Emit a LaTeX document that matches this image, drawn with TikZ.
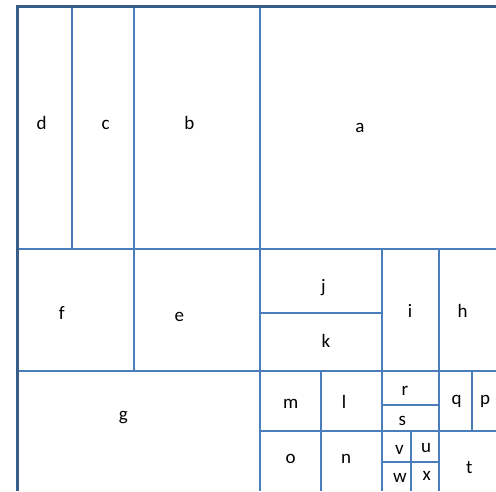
\documentclass[tikz,border=0pt]{standalone}
\usepackage{fontspec}
\setmainfont{Carlito}
\definecolor{cellblue}{HTML}{4A7EBB}
\definecolor{frameblue}{HTML}{385D8A}

\begin{document}
\begin{tikzpicture}[x=1pt, y=-1pt, font=\fontsize{19}{22}\selectfont,
		cell/.style={cellblue, line width=1.1pt},
		lbl/.style={anchor=base, inner sep=0pt}]
		\useasboundingbox (0,0) rectangle (496,491);
		% frame corners and edges
		\coordinate (TL) at (17.5,6.5); \coordinate (TR) at (496,6.5); \coordinate (BL) at (17.5,491);
		% long horizontal cuts
		\draw[cell] (17.5,249) -- (496,249);
		\draw[cell] (17.5,371) -- (496,371);
		% top band: d | c | b | a
		\draw[cell] (72,6.5) -- (72,249);
		\draw[cell] (134,6.5) -- (134,371);
		\draw[cell] (260,6.5) -- (260,491);
		% middle band: j/k | i | h
		\draw[cell] (382,249) -- (382,491);
		\draw[cell] (439,249) -- (439,491);
		\draw[cell] (260,313) -- (382,313);
		% bottom band
		\draw[cell] (321,371) -- (321,491);
		\draw[cell] (260,431) -- (496,431);
		\draw[cell] (382,405) -- (439,405);
		\draw[cell] (472,371) -- (472,431);
		\draw[cell] (411,431) -- (411,491);
		\draw[cell] (382,462) -- (439,462);
		% thick frame, left and top only
		\draw[frameblue, line width=3pt] (BL) -- (TL) -- (TR);
		% letters (placed on their baselines)
		\node[lbl] (d) at (41.7,129.5) {d};
		\node[lbl] (c) at (105.7,129.5) {c};
		\node[lbl] (b) at (189.3,129.5) {b};
		\node[lbl] (a) at (360,132) {a};
		\node[lbl] (f) at (61.7,319.5) {f};
		\node[lbl] (e) at (179.3,321.5) {e};
		\node[lbl] (j) at (323.3,292) {j};
		\node[lbl] (k) at (326,347.3) {k};
		\node[lbl] (i) at (410,317.3) {i};
		\node[lbl] (h) at (462.7,317.3) {h};
		\node[lbl] (g) at (123.3,420) {g};
		\node[lbl] (m) at (290.7,408) {m};
		\node[lbl] (l) at (344,408) {l};
		\node[lbl] (o) at (290.7,463) {o};
		\node[lbl] (n) at (346,463) {n};
		\node[lbl] (r) at (405,395) {r};
		\node[lbl] (s) at (402.3,425) {s};
		\node[lbl] (q) at (456.7,404) {q};
		\node[lbl] (p) at (485,404) {p};
		\node[lbl] (v) at (399.3,454) {v};
		\node[lbl] (u) at (426,452.7) {u};
		\node[lbl] (w) at (400,482.7) {w};
		\node[lbl] (x) at (426.7,480.7) {x};
		\node[lbl] (t) at (469.3,473.3) {t};
	\end{tikzpicture}
\end{document}
